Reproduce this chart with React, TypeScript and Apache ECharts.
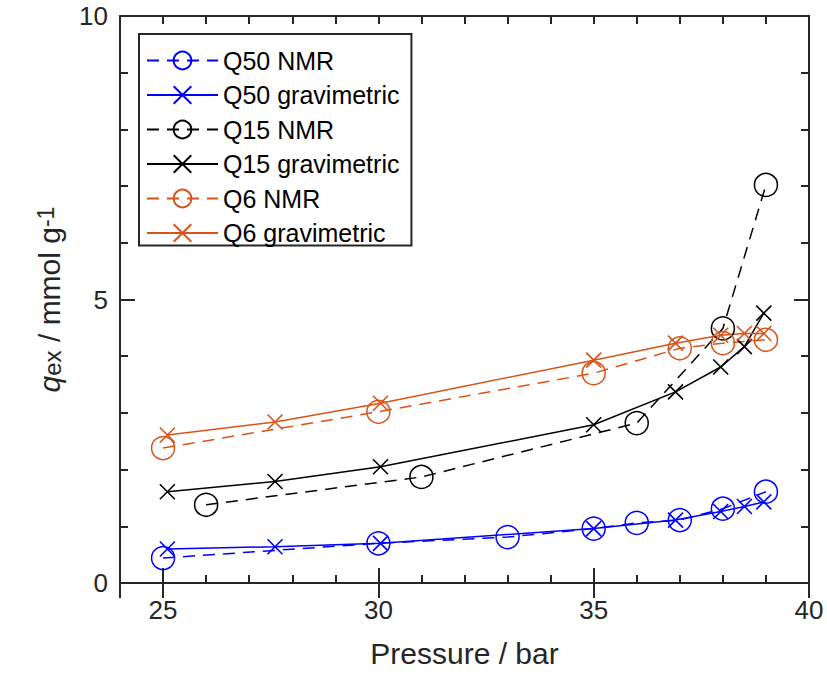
import { useEffect, useRef } from 'react';
import * as echarts from 'echarts';

// ---- data ----
const q50NmrX = [25, 30, 33, 35, 36, 37, 38, 39];
const q50NmrY = [0.44, 0.7, 0.81, 0.96, 1.06, 1.11, 1.31, 1.61];

const gravX = [25.1, 27.6, 30.05, 35, 36.9, 37.95, 38.5, 38.95];
const q50GravY = [0.6, 0.64, 0.7, 0.96, 1.11, 1.26, 1.35, 1.43];

const q15NmrX = [26, 31, 36, 38, 39];
const q15NmrY = [1.38, 1.87, 2.82, 4.49, 7.02];
const q15GravY = [1.61, 1.79, 2.05, 2.79, 3.37, 3.81, 4.17, 4.76];

const q6NmrX = [25, 30, 35, 37, 38, 39];
const q6NmrY = [2.38, 3.02, 3.7, 4.14, 4.23, 4.29];
const q6GravY = [2.61, 2.84, 3.17, 3.93, 4.23, 4.37, 4.4, 4.4];

const seriesNames = [
  'Q50 NMR',
  'Q50 gravimetric',
  'Q15 NMR',
  'Q15 gravimetric',
  'Q6 NMR',
  'Q6 gravimetric',
];

const xLabels = [25, 30, 35, 40];

const BLUE = '#0000ff';
const BLACK = '#000000';
const ORANGE = '#d95319';
const AXIS = '#262626';
const FONT = "'Liberation Sans', Arial, Helvetica, sans-serif";
const CROSS = 'path://M0,0L10,10M10,0L0,10';

function nmrSeries(name: string, xs: number[], ys: number[], color: string) {
  return {
    name,
    type: 'line',
    xAxisIndex: 0,
    yAxisIndex: 0,
    data: xs.map((x, i) => [x, ys[i]]),
    symbol: 'circle',
    symbolSize: 23,
    itemStyle: { color: 'transparent', borderColor: color, borderWidth: 1.5 },
    lineStyle: { color, width: 1.5, type: [12, 8] },
    emphasis: { disabled: true },
  };
}

function gravSeries(name: string, xs: number[], ys: number[], color: string) {
  return {
    name,
    type: 'line',
    xAxisIndex: 0,
    yAxisIndex: 0,
    data: xs.map((x, i) => [x, ys[i]]),
    symbol: CROSS,
    symbolSize: 15,
    itemStyle: { color: 'transparent', borderColor: color, borderWidth: 1.6 },
    lineStyle: { color, width: 1.5, type: 'solid' },
    emphasis: { disabled: true },
  };
}

export default function App() {
  const ref = useRef<HTMLDivElement>(null);

  useEffect(() => {
    if (!ref.current) return;
    const chart = echarts.init(ref.current, undefined, { renderer: 'svg' });

    const lineStyle = { color: AXIS, width: 2 };
    const minorAxis = (position: 'bottom' | 'top', labels: boolean) => ({
      type: 'value',
      position,
      min: 24,
      max: 40,
      interval: 1,
      axisLine: { show: true, onZero: false, lineStyle },
      axisTick: { show: true, inside: true, length: 8, lineStyle },
      axisLabel: {
        show: labels,
        fontSize: 26,
        color: AXIS,
        fontFamily: FONT,
        margin: 14,
        formatter: (v: number) => (xLabels.includes(v) ? String(v) : ''),
      },
      splitLine: { show: false },
      name: labels ? 'Pressure / bar' : '',
      nameLocation: 'middle',
      nameGap: 55,
      nameTextStyle: { fontSize: 30, color: AXIS, fontFamily: FONT },
    });
    const majorAxis = (position: 'bottom' | 'top') => ({
      type: 'value',
      position,
      min: 24,
      max: 40,
      splitNumber: 3,
      minInterval: 5,
      maxInterval: 5,
      axisLine: { show: false },
      axisTick: { show: true, inside: true, length: 15, lineStyle },
      axisLabel: { show: false },
      splitLine: { show: false },
    });
    const yAxis = (position: 'left' | 'right', labels: boolean) => ({
      type: 'value',
      position,
      min: 0,
      max: 10,
      interval: 5,
      axisLine: { show: true, onZero: false, lineStyle },
      axisTick: { show: true, inside: true, length: 15, lineStyle },
      minorTick: { show: true, splitNumber: 5, length: 8, lineStyle },
      axisLabel: {
        show: labels,
        fontSize: 26,
        color: AXIS,
        fontFamily: FONT,
        margin: 12,
      },
      splitLine: { show: false },
      name: labels ? '{q|q}{sub|ex}{t| / mmol g}{sup|-1}' : '',
      nameLocation: 'middle',
      nameGap: 56,
      nameTextStyle: {
        fontFamily: FONT,
        color: AXIS,
        fontSize: 30,
        rich: {
          q: { fontStyle: 'italic', fontSize: 30, lineHeight: 30, fontFamily: FONT, color: AXIS },
          t: { fontSize: 30, lineHeight: 30, fontFamily: FONT, color: AXIS },
          sub: { fontSize: 24, lineHeight: 24, verticalAlign: 'bottom', fontFamily: FONT, color: AXIS },
          sup: { fontSize: 23, lineHeight: 23, verticalAlign: 'top', fontFamily: FONT, color: AXIS },
        },
      },
    });

    chart.setOption({
      animation: false,
      backgroundColor: '#ffffff',
      textStyle: { fontFamily: FONT },
      grid: { left: 120, right: 18, top: 16, bottom: 91, containLabel: false },
      xAxis: [
        minorAxis('bottom', true),
        majorAxis('bottom'),
        minorAxis('top', false),
        majorAxis('top'),
      ],
      yAxis: [yAxis('left', true), yAxis('right', false)],
      legend: {
        orient: 'vertical',
        left: 139,
        top: 34,
        itemWidth: 71,
        itemHeight: 22,
        itemGap: 9.5,
        padding: [14, 12, 0, 7],
        backgroundColor: '#ffffff',
        borderColor: AXIS,
        borderWidth: 2,
        selectedMode: false,
        textStyle: { fontSize: 25, color: '#000', fontFamily: FONT },
        data: seriesNames,
      },
      series: [
        nmrSeries(seriesNames[0], q50NmrX, q50NmrY, BLUE),
        gravSeries(seriesNames[1], gravX, q50GravY, BLUE),
        nmrSeries(seriesNames[2], q15NmrX, q15NmrY, BLACK),
        gravSeries(seriesNames[3], gravX, q15GravY, BLACK),
        nmrSeries(seriesNames[4], q6NmrX, q6NmrY, ORANGE),
        gravSeries(seriesNames[5], gravX, q6GravY, ORANGE),
      ],
    });

    return () => chart.dispose();
  }, []);

  return (
    <div
      ref={ref}
      style={{ position: 'fixed', left: 0, top: 0, width: 827, height: 674, background: '#fff' }}
    />
  );
}
